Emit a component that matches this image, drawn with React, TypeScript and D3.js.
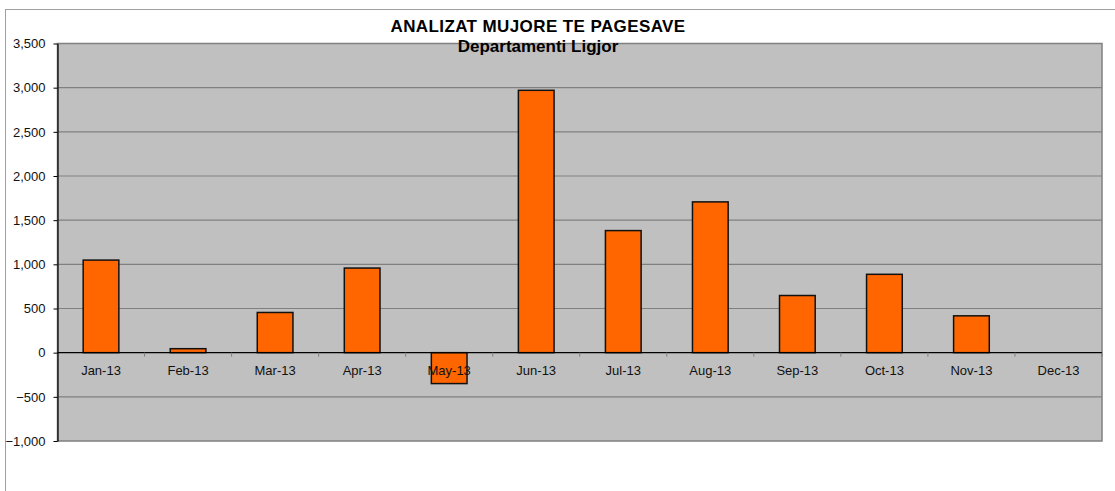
import React, { useEffect, useRef } from "react";
import * as d3 from "d3";

const months = ["Jan-13", "Feb-13", "Mar-13", "Apr-13", "May-13", "Jun-13", "Jul-13", "Aug-13", "Sep-13", "Oct-13", "Nov-13", "Dec-13"];
const payments = [1048, 45, 455, 958, -350, 2970, 1382, 1707, 647, 887, 417, 0];
const yTicks = [-1000, -500, 0, 500, 1000, 1500, 2000, 2500, 3000, 3500];
const title = "ANALIZAT MUJORE TE PAGESAVE";
const subtitle = "Departamenti Ligjor";

function App() {
  const ref = useRef<SVGSVGElement>(null);
  const width = 1115;
  const height = 491;

  useEffect(() => {
    drawChart();
  }, []);

  function drawChart() {
    const svg = d3.select(ref.current);
    svg.selectAll("*").remove();

    const left = 57.5,
      right = 1102,
      top = 43.5,
      bottom = 441;
    const font = "Liberation Sans, Arial, sans-serif";

    const xScale = d3.scaleBand().domain(months).range([left, right]).paddingInner(0.59).paddingOuter(0.295);
    const xBand = d3.scaleBand().domain(months).range([left, right]);
    const yScale = d3.scaleLinear().domain([-1000, 3500]).range([bottom, top]);

    // chart frame
    svg
      .append("rect")
      .attr("x", 5.5)
      .attr("y", 9.5)
      .attr("width", width + 10)
      .attr("height", height + 10)
      .attr("fill", "#fff")
      .attr("stroke", "#a0a0a0");

    // plot area
    svg
      .append("rect")
      .attr("x", left)
      .attr("y", top)
      .attr("width", right - left)
      .attr("height", bottom - top)
      .attr("fill", "#c0c0c0")
      .attr("stroke", "#808080")
      .attr("stroke-width", 1.5);

    // grid
    svg
      .append("g")
      .selectAll("line")
      .data(yTicks.filter((t) => t !== 0 && t !== -1000))
      .join("line")
      .attr("x1", left)
      .attr("x2", right)
      .attr("y1", (d) => yScale(d))
      .attr("y2", (d) => yScale(d))
      .attr("stroke", "#808080")
      .attr("stroke-width", 1.2);

    // y axis
    const yAxis = svg
      .append("g")
      .attr("transform", `translate(${left},0)`)
      .call(d3.axisLeft(yScale).tickValues(yTicks).tickSize(4).tickSizeOuter(0).tickFormat(d3.format(",")));
    yAxis.select(".domain").attr("stroke", "#000").attr("stroke-width", 1.2);
    yAxis.selectAll(".tick line").attr("stroke", "#000");
    yAxis
      .selectAll(".tick text")
      .attr("x", -12)
      .attr("font-family", font)
      .attr("font-size", 13)
      .attr("fill", "#111");

    // bars
    svg
      .append("g")
      .selectAll("rect")
      .data(payments.map((v, i) => ({ m: months[i], v })).filter((d) => d.v !== 0))
      .join("rect")
      .attr("x", (d) => xScale(d.m)!)
      .attr("width", xScale.bandwidth())
      .attr("y", (d) => yScale(Math.max(0, d.v)))
      .attr("height", (d) => Math.abs(yScale(d.v) - yScale(0)))
      .attr("fill", "#ff6600")
      .attr("stroke", "#111")
      .attr("stroke-width", 1.5);

    // category axis at zero
    const xAxis = svg.append("g").attr("transform", `translate(0,${yScale(0)})`);
    xAxis
      .append("line")
      .attr("x1", left)
      .attr("x2", right)
      .attr("stroke", "#000")
      .attr("stroke-width", 1.2);
    xAxis
      .selectAll("line.tk")
      .data(months.slice(1).concat(["end"]))
      .join("line")
      .attr("class", "tk")
      .attr("x1", (d, i) => left + xBand.step() * (i + 1))
      .attr("x2", (d, i) => left + xBand.step() * (i + 1))
      .attr("y1", 0)
      .attr("y2", 4)
      .attr("stroke", "#808080");
    xAxis
      .selectAll("text")
      .data(months)
      .join("text")
      .attr("x", (d) => xBand(d)! + xBand.bandwidth() / 2)
      .attr("y", 22)
      .attr("text-anchor", "middle")
      .attr("font-family", font)
      .attr("font-size", 13)
      .attr("fill", "#111")
      .text((d) => d);

    // titles
    svg
      .append("text")
      .attr("x", 538)
      .attr("y", 32)
      .attr("text-anchor", "middle")
      .attr("font-family", font)
      .attr("font-weight", "bold")
      .attr("font-size", 17)
      .attr("letter-spacing", 0.4)
      .text(title);
    svg
      .append("text")
      .attr("x", 538)
      .attr("y", 52)
      .attr("text-anchor", "middle")
      .attr("font-family", font)
      .attr("font-weight", "bold")
      .attr("font-size", 17)
      .text(subtitle);
  }

  return (
    <svg
      ref={ref}
      width={width}
      height={height}
      style={{ position: "absolute", left: 0, top: 0, display: "block" }}
    />
  );
}

export default App;
